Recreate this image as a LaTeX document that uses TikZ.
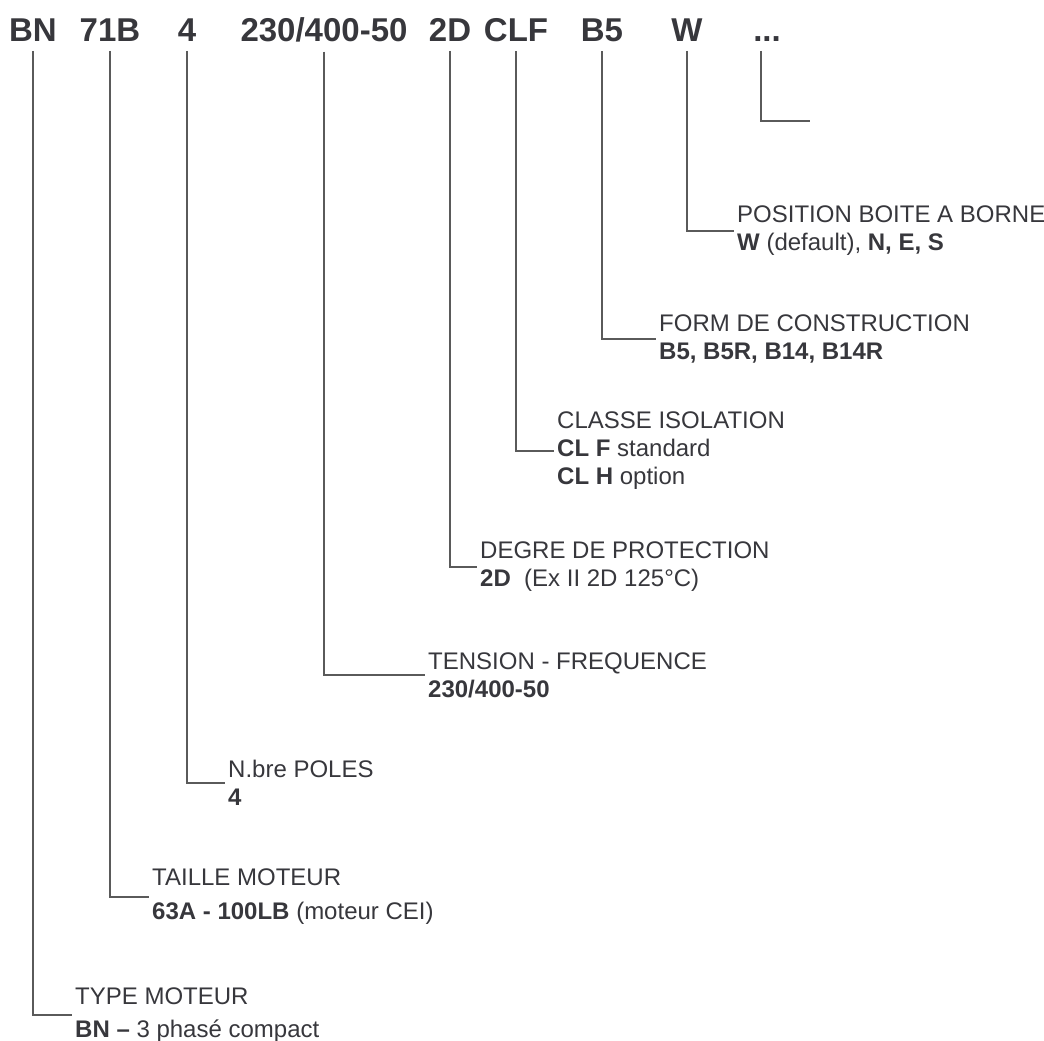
\documentclass[tikz,border=0pt]{standalone}
\usepackage{fontspec}
\setmainfont{Liberation Sans}
\usetikzlibrary{positioning}
\definecolor{ink}{RGB}{55,55,60}
\definecolor{lead}{RGB}{90,90,90}

\begin{document}
\begin{tikzpicture}[x=1pt, y=-1pt,
  code/.style={inner sep=0pt, outer ysep=9pt, anchor=base, text=ink,
    font=\fontsize{33}{36}\selectfont\bfseries},
  desc/.style={inner xsep=3pt, inner ysep=0pt, anchor=west, align=left,
    text=ink, font=\fontsize{24}{28}\selectfont},
  link/.style={draw=lead, line width=1.6pt},
]
\useasboundingbox (0,0) rectangle (1044,1041);

\node[code] (bn)    at (33,42)  {BN};
\node[code] (size)  at (110,42) {71B};
\node[code] (poles) at (187,42) {4};
\node[code] (volt)  at (324,42) {230/400-50};
\node[code] (prot)  at (450,42) {2D};
\node[code] (cls)   at (516,42) {CLF};
\node[code] (form)  at (602,42) {B5};
\node[code] (box)   at (687,42) {W};
\node[code] (dots)  at (767,42) {...};
\coordinate (more) at (810,121);

\node[desc] (box-d)   at (734,231)  {POSITION BOITE A BORNE\\\textbf{W} (default), \textbf{N, E, S}};
\node[desc] (form-d)  at (656,339)  {FORM DE CONSTRUCTION\\\textbf{B5, B5R, B14, B14R}};
\node[desc] (cls-d)   at (554,451)  {CLASSE ISOLATION\\\textbf{CL F} standard\\\textbf{CL H} option};
\node[desc] (prot-d)  at (477,567)  {DEGRE DE PROTECTION\\\textbf{2D}\ \ (Ex II 2D 125°C)};
\node[desc] (volt-d)  at (425,675)  {TENSION - FREQUENCE\\\textbf{230/400-50}};
\node[desc] (poles-d) at (225,783)  {N.bre POLES\\\textbf{4}};
\node[desc] (size-d)  at (149,897)  {TAILLE MOTEUR\\[6pt]\textbf{63A - 100LB} (moteur CEI)};
\node[desc] (bn-d)    at (72,1015)  {TYPE MOTEUR\\[5pt]\textbf{BN –} 3 phasé compact};

\draw[link] (bn.south) |- (bn-d.west);
\draw[link] (size.south) |- (size-d.west);
\draw[link] (poles.south) |- (poles-d.west);
\draw[link] (volt.south) |- (volt-d.west);
\draw[link] (prot.south) |- (prot-d.west);
\draw[link] (cls.south) |- (cls-d.west);
\draw[link] (form.south) |- (form-d.west);
\draw[link] (box.south) |- (box-d.west);
\draw[link] ([xshift=-6pt]dots.south) |- (more);
\end{tikzpicture}
\end{document}
